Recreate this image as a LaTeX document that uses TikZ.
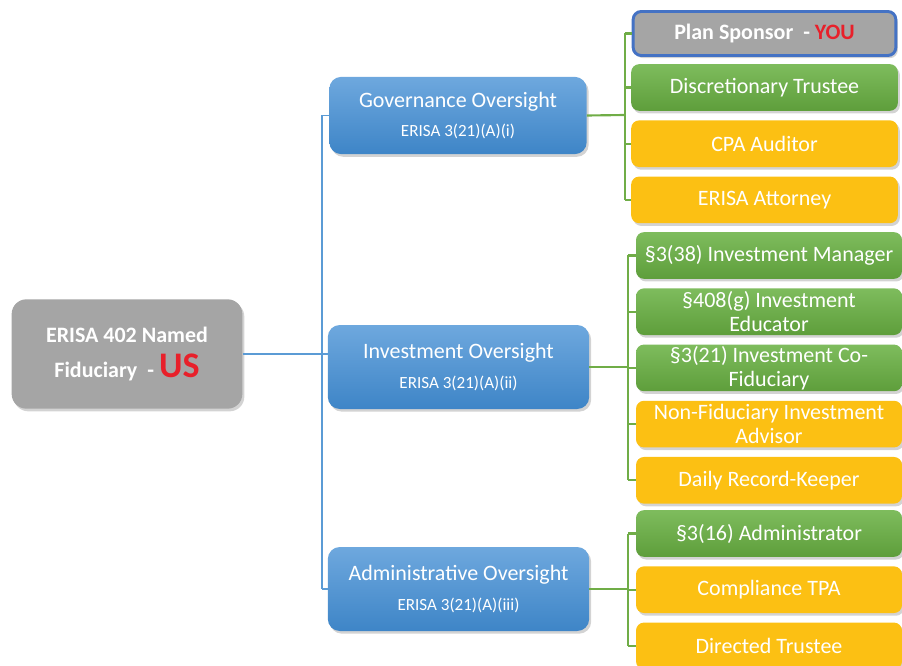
\documentclass[tikz,border=0pt]{standalone}
\usepackage{fontspec}
\setmainfont{Carlito}
\usetikzlibrary{positioning, calc, shadows}

\definecolor{rootgray}{HTML}{A5A5A5}
\definecolor{bluetop}{HTML}{6EA8DE}
\definecolor{bluebot}{HTML}{3E85C7}
\definecolor{greentop}{HTML}{7EBC5D}
\definecolor{greenbot}{HTML}{5E9E3B}
\definecolor{amber}{HTML}{FCC013}
\definecolor{bordblue}{HTML}{4472C4}
\definecolor{lineblue}{HTML}{5B9BD5}
\definecolor{linegreen}{HTML}{70AD47}
\definecolor{usred}{HTML}{E8202A}

\begin{document}
\begin{tikzpicture}[
    x=0.75pt, y=-0.75pt,
    node distance=6.75pt,
    every node/.style={font=\fontsize{16.5}{18}\selectfont, text=white, align=center, inner sep=2pt},
    boxshadow/.style={drop shadow={opacity=0.35, shadow xshift=1.5pt, shadow yshift=-2pt}},
    rootbox/.style={rectangle, rounded corners=11pt, fill=rootgray, minimum width=173pt, minimum height=82pt, boxshadow, font=\bfseries\fontsize{16.5}{26}\selectfont},
    midbox/.style={rectangle, rounded corners=9pt, top color=bluetop, bottom color=bluebot, minimum width=196pt, minimum height=63pt, boxshadow},
    rolebox/.style={rectangle, rounded corners=6pt, minimum width=199.5pt, minimum height=35pt, inner ysep=0pt, boxshadow},
    fidbox/.style={rolebox, top color=greentop, bottom color=greenbot},
    servbox/.style={rolebox, fill=amber},
    sponsorbox/.style={rolebox, fill=rootgray, draw=bordblue, line width=2.2pt, minimum width=197pt, minimum height=33pt, font=\bfseries\fontsize{16.5}{18}\selectfont},
    blueline/.style={draw=lineblue, line width=1.3pt},
    greenline/.style={draw=linegreen, line width=1.6pt}
    ]
    \useasboundingbox (0,0) rectangle (902,666);

    % named fiduciary
    \node[rootbox] (root) at (127,354) {ERISA 402 Named\\Fiduciary\ \ - {\color{usred}\fontsize{27}{26}\selectfont US}};

    % oversight boxes
    \node[midbox, minimum width=193pt, minimum height=58pt] (gov) at (458,115.5) {Governance Oversight\\[4pt]{\fontsize{12.8}{14}\selectfont ERISA 3(21)(A)(i)}};
    \node[midbox] (inv) at (458.5,367) {Investment Oversight\\[4pt]{\fontsize{12.8}{14}\selectfont ERISA 3(21)(A)(ii)}};
    \node[midbox] (adm) at (458.5,589) {Administrative Oversight\\[4pt]{\fontsize{12.8}{14}\selectfont ERISA 3(21)(A)(iii)}};

    % governance roles
    \node[sponsorbox] (sponsor) at (764.5,33.5) {Plan Sponsor \ - {\color{usred}YOU}};
    \node[fidbox, minimum width=200pt] (trustee) at (764.5,87.5) {Discretionary Trustee};
    \node[servbox, minimum width=200pt, below=of trustee] (cpa) {CPA Auditor};
    \node[servbox, minimum width=200pt, below=of cpa] (attorney) {ERISA Attorney};

    % investment roles
    \node[fidbox] (mgr) at (769,255.5) {§3(38) Investment Manager};
    \node[fidbox, below=of mgr] (educ) {§408(g) Investment\\Educator};
    \node[fidbox, below=of educ] (cofid) {§3(21) Investment Co-\\Fiduciary};
    \node[servbox, below=of cofid] (advisor) {Non-Fiduciary Investment\\Advisor};
    \node[servbox, below=of advisor] (keeper) {Daily Record-Keeper};

    % administrative roles
    \node[fidbox] (admin) at (769,533.5) {§3(16) Administrator};
    \node[servbox, below=of admin] (tpa) {Compliance TPA};
    \node[servbox, below=of tpa] (directed) {Directed Trustee};

    % blue tree
    \coordinate (trunk) at (322,354);
    \draw[blueline] (root.east) -- (inv.west |- root.east);
    \draw[blueline] (trunk |- gov) -- (trunk |- adm);
    \draw[blueline] (trunk |- gov) -- (gov.west);
    \draw[blueline] (trunk |- adm) -- (adm.west);

    % green branches
    \coordinate (govbus) at (625,115);
    \coordinate (invbus) at (628,367);
    \coordinate (admbus) at (628,589);
    \draw[greenline] (gov.east) -- (govbus);
    \draw[greenline] (govbus |- sponsor) -- (govbus |- attorney);
    \foreach \n in {sponsor, trustee, cpa, attorney}
        \draw[greenline] (govbus |- \n) -- (\n.west);
    \draw[greenline] (inv.east) -- (invbus);
    \draw[greenline] (invbus |- mgr) -- (invbus |- keeper);
    \foreach \n in {mgr, educ, cofid, advisor, keeper}
        \draw[greenline] (invbus |- \n) -- (\n.west);
    \draw[greenline] (adm.east) -- (admbus);
    \draw[greenline] (admbus |- admin) -- (admbus |- directed);
    \foreach \n in {admin, tpa, directed}
        \draw[greenline] (admbus |- \n) -- (\n.west);
\end{tikzpicture}
\end{document}
